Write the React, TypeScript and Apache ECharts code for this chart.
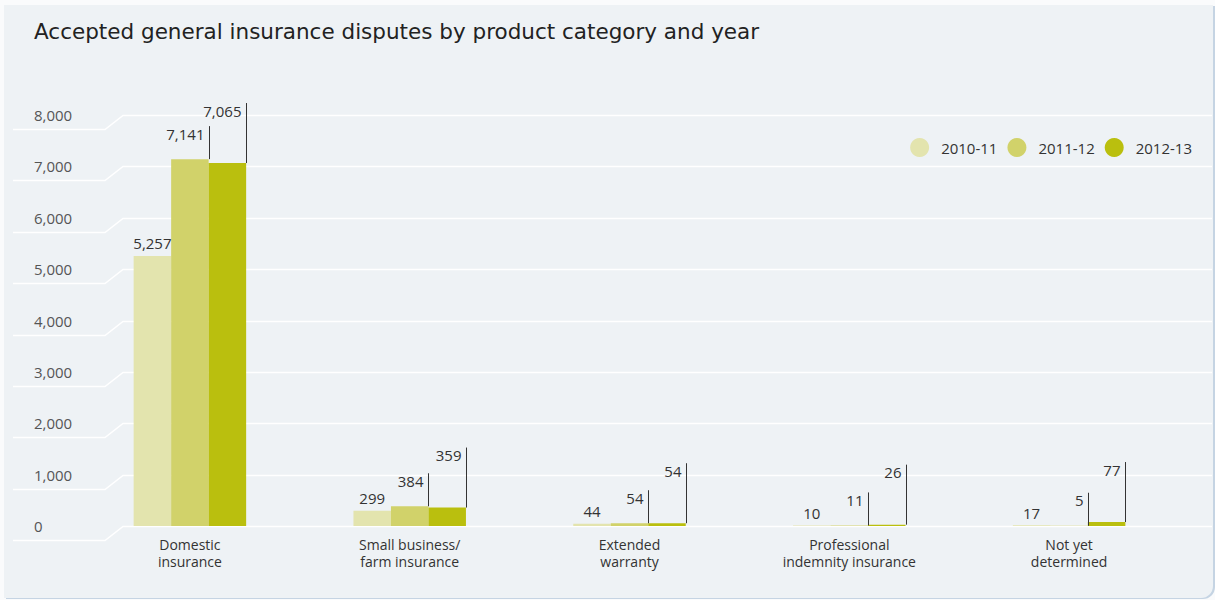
import React, { useEffect, useRef } from "react";
import * as echarts from "echarts";

const titleText = "Accepted general insurance disputes by product category and year";
const categories = [
  "Domestic\ninsurance",
  "Small business/\nfarm insurance",
  "Extended\nwarranty",
  "Professional\nindemnity insurance",
  "Not yet\ndetermined",
];
const seriesNames = ["2010-11", "2011-12", "2012-13"];
const values2010 = [5257, 299, 44, 10, 17];
const values2011 = [7141, 384, 54, 11, 5];
const values2012 = [7065, 359, 54, 26, 77];
const yTicks = [0, 1000, 2000, 3000, 4000, 5000, 6000, 7000, 8000];
const colors = ["#e3e4ae", "#d1d26a", "#babf0e"];

const BAR_W = 37.5;
const LEAD = [0, 33, 60];
const FONT = "'Open Sans', sans-serif";
const TITLE_FONT = "'DejaVu Sans', sans-serif";
const fmt = (v: number) => Number(v).toLocaleString("en-US");

export default function App() {
  const ref = useRef<HTMLDivElement>(null);
  useEffect(() => {
    document.body.style.margin = "0";
    const chart = echarts.init(ref.current!, null, { renderer: "svg" });
    const valueSets = [values2010, values2011, values2012];

    const barSeries = valueSets.map((vals, i) => ({
      type: "bar",
      name: seriesNames[i],
      data: vals,
      barWidth: BAR_W,
      barGap: "0%",
      z: 3,
      itemStyle: { color: colors[i] },
      label:
        i === 0
          ? {
              show: true,
              position: "top",
              distance: 5,
              formatter: (p: any) => fmt(p.value),
              color: "#333",
              fontSize: 15,
              fontFamily: FONT,
            }
          : { show: false },
    }));

    const leaderSeries = [1, 2].map((k) => ({
      type: "custom",
      name: "leader" + k,
      z: 4,
      clip: false,
      silent: true,
      data: valueSets[k].map((v, c) => [c, v]),
      renderItem: (_params: any, api: any) => {
        const c = api.value(0);
        const v = api.value(1);
        const pt = api.coord([c, v]);
        const x = Math.round(pt[0] - 1.5 * BAR_W + (k + 1) * BAR_W) + 0.5;
        const top = pt[1] - LEAD[k];
        return {
          type: "group",
          children: [
            {
              type: "line",
              shape: { x1: x, y1: pt[1], x2: x, y2: top },
              style: { stroke: "#333", lineWidth: 1 },
            },
            {
              type: "text",
              x: x - 5,
              y: top,
              style: {
                text: fmt(v),
                align: "right",
                verticalAlign: "top",
                fill: "#333",
                fontSize: 15,
                fontFamily: FONT,
              },
            },
          ],
        };
      },
    }));

    const gridSeries = {
      type: "custom",
      name: "gridlines",
      z: 1,
      clip: false,
      silent: true,
      data: yTicks.map((t) => [0, t]),
      renderItem: (_params: any, api: any) => {
        const y = Math.round(api.coord([0, api.value(1)])[1]) + 0.5;
        return {
          type: "polyline",
          shape: {
            points: [
              [13, y + 14],
              [105, y + 14],
              [123, y],
              [1212, y],
            ],
          },
          style: { stroke: "#ffffff", lineWidth: 1.5, fill: "none" },
        };
      },
    };

    chart.setOption({
      animation: false,
      title: {
        text: titleText,
        left: 34,
        top: 20,
        padding: 0,
        textStyle: { fontSize: 21.5, fontWeight: "normal", color: "#222", fontFamily: TITLE_FONT },
      },
      legend: {
        data: seriesNames,
        right: 18,
        top: 133,
        icon: "circle",
        itemWidth: 33,
        itemHeight: 19,
        itemGap: 10,
        textStyle: { fontSize: 15, color: "#333", fontFamily: FONT },
      },
      grid: { left: 80, right: 36, top: 115, bottom: 74 },
      xAxis: {
        type: "category",
        data: categories,
        axisLine: { show: false },
        axisTick: { show: false },
        axisLabel: {
          color: "#333",
          fontSize: 14,
          lineHeight: 17,
          margin: 10,
          fontFamily: FONT,
          interval: 0,
        },
      },
      yAxis: {
        type: "value",
        min: 0,
        max: 8000,
        interval: 1000,
        axisLine: { show: false },
        axisTick: { show: false },
        splitLine: { show: false },
        axisLabel: {
          align: "left",
          margin: 46,
          padding: [6, 0, 0, 0],
          color: "#555",
          fontSize: 15,
          fontFamily: FONT,
          formatter: (v: number) => fmt(v),
        },
      },
      series: [gridSeries, ...barSeries, ...leaderSeries],
    });
    return () => chart.dispose();
  }, []);

  return (
    <div style={{ position: "absolute", left: 0, top: 0, width: 1215, height: 600, background: "#fafbfc", overflow: "hidden" }}>
      <div
        style={{
          position: "absolute",
          left: 4,
          top: 5,
          width: 1209,
          height: 593,
          background: "#eef2f5",
          borderBottomRightRadius: 12,
          boxShadow: "2px 1px 0 #c5d4e3",
        }}
      />
      <div ref={ref} style={{ position: "absolute", left: 0, top: 0, width: 1215, height: 600 }} />
    </div>
  );
}
